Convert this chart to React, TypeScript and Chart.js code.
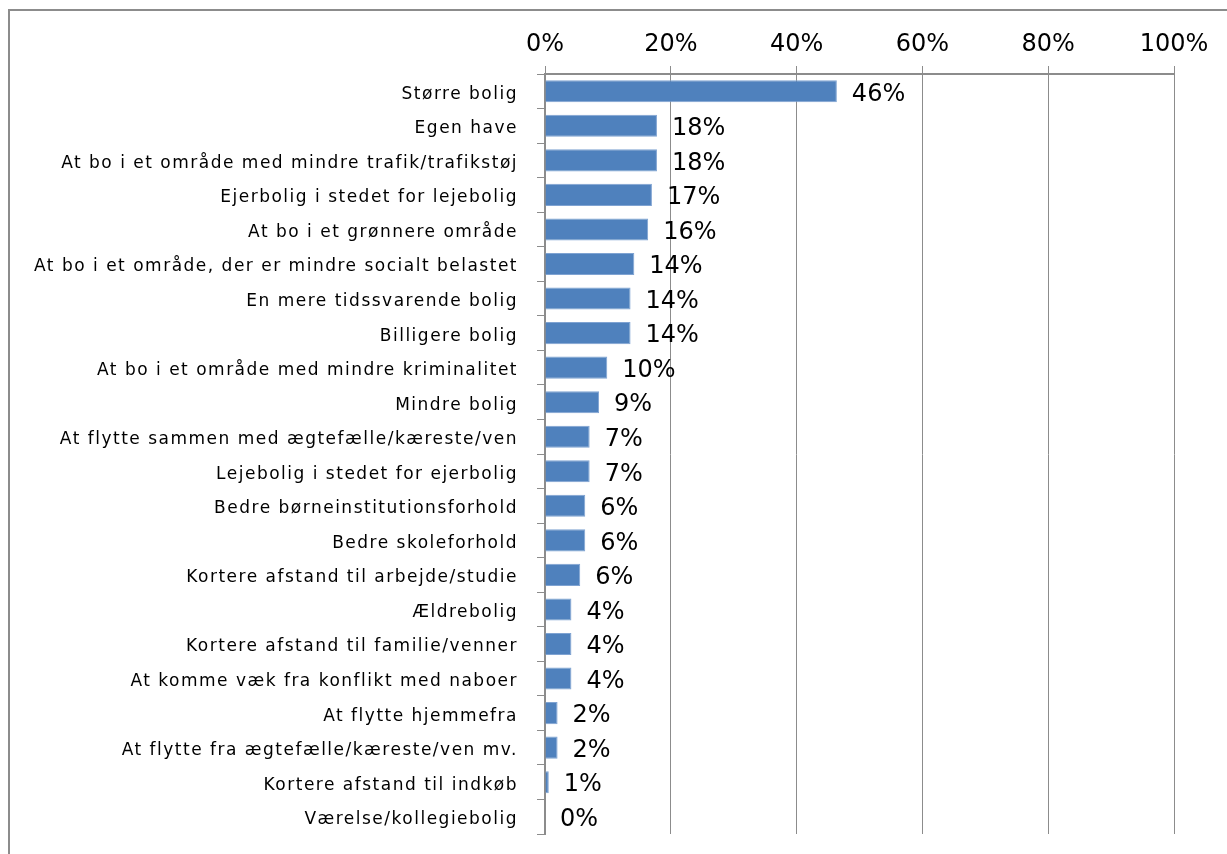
import React, { useEffect, useRef } from "react";
import { Chart, registerables } from "chart.js";

Chart.register(...registerables);

const categories: string[] = [
  "Større bolig",
  "Egen have",
  "At bo i et område med mindre trafik/trafikstøj",
  "Ejerbolig i stedet for lejebolig",
  "At bo i et grønnere område",
  "At bo i et område, der er mindre socialt belastet",
  "En mere tidssvarende bolig",
  "Billigere bolig",
  "At bo i et område med mindre kriminalitet",
  "Mindre bolig",
  "At flytte sammen med ægtefælle/kæreste/ven",
  "Lejebolig i stedet for ejerbolig",
  "Bedre børneinstitutionsforhold",
  "Bedre skoleforhold",
  "Kortere afstand til arbejde/studie",
  "Ældrebolig",
  "Kortere afstand til familie/venner",
  "At komme væk fra konflikt med naboer",
  "At flytte hjemmefra",
  "At flytte fra ægtefælle/kæreste/ven mv.",
  "Kortere afstand til indkøb",
  "Værelse/kollegiebolig",
];

const values: number[] = [
  46.4, 17.8, 17.8, 17.0, 16.4, 14.2, 13.6, 13.6, 9.9, 8.6, 7.1, 7.1, 6.4, 6.4,
  5.6, 4.2, 4.2, 4.2, 2.0, 2.0, 0.6, 0,
];

const xTicks: number[] = [0, 20, 40, 60, 80, 100];

const FONT = "'DejaVu Sans', Verdana, sans-serif";
const GRID = "#8c8c8c";

const labelsPlugin = {
  id: "customLabels",
  afterDatasetsDraw(chart: any) {
    const ctx = chart.ctx;
    const meta = chart.getDatasetMeta(0);
    const yScale = chart.scales.y;
    ctx.save();
    (ctx as any).letterSpacing = "0px";
    ctx.font = `24px ${FONT}`;
    ctx.fillStyle = "#000";
    ctx.textAlign = "left";
    ctx.textBaseline = "middle";
    meta.data.forEach((bar: any, i: number) => {
      const v = values[i];
      ctx.fillText(`${Math.round(v)}%`, bar.x + 15, bar.y + 3);
    });
    ctx.font = `17px ${FONT}`;
    (ctx as any).letterSpacing = "1.5px";
    ctx.textAlign = "right";
    categories.forEach((c, i) => {
      const y = yScale.getPixelForTick(i);
      ctx.fillText(c, 518, y + 3);
    });
    (ctx as any).letterSpacing = "0px";
    ctx.restore();
  },
};

export default function App() {
  const ref = useRef<HTMLCanvasElement | null>(null);

  useEffect(() => {
    if (!ref.current) return;
    const chart = new Chart(ref.current, {
      type: "bar",
      data: {
        labels: categories,
        datasets: [
          {
            data: values,
            backgroundColor: "#4F81BD",
            borderColor: "#7FA3D2",
            borderWidth: 1,
            categoryPercentage: 1,
            barPercentage: 0.64,
          },
        ],
      },
      options: {
        indexAxis: "y",
        responsive: false,
        animation: false,
        layout: { padding: { left: 0, right: 53, top: 0, bottom: 20 } },
        plugins: {
          legend: { display: false },
          tooltip: { enabled: false },
        },
        scales: {
          x: {
            position: "top",
            min: 0,
            max: 100,
            afterBuildTicks: (scale: any) => {
              scale.ticks = xTicks.map((v) => ({ value: v }));
            },
            afterFit: (scale: any) => {
              scale.height = 74;
            },
            ticks: {
              callback: (v: any) => `${v}%`,
              color: "#000",
              font: { family: FONT, size: 24 },
              padding: 7,
              maxRotation: 0,
            },
            grid: {
              color: GRID,
              lineWidth: 1,
              tickLength: 8,
              drawTicks: true,
            },
            border: { display: true, color: GRID, width: 2 },
          },
          y: {
            afterFit: (scale: any) => {
              scale.width = 545;
            },
            ticks: {
              display: false,
              autoSkip: false,
            },
            grid: {
              drawOnChartArea: false,
              color: GRID,
              tickLength: 8,
              offset: true,
            },
            border: { display: true, color: GRID, width: 2 },
          },
        },
      },
      plugins: [labelsPlugin],
    });
    return () => chart.destroy();
  }, []);

  return (
    <div
      style={{
        position: "fixed",
        left: 0,
        top: 0,
        width: 1227,
        height: 854,
        overflow: "hidden",
        background: "#fff",
      }}
    >
      <canvas
        ref={ref}
        width={1227}
        height={854}
        style={{ position: "absolute", left: 0, top: 0, width: 1227, height: 854 }}
      />
      <div
        style={{
          position: "absolute",
          left: 8,
          top: 9,
          width: 1300,
          height: 900,
          border: `2px solid ${GRID}`,
          pointerEvents: "none",
        }}
      />
    </div>
  );
}
